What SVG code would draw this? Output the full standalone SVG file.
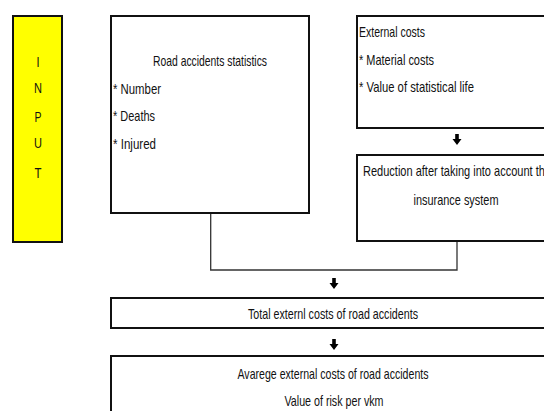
<svg xmlns="http://www.w3.org/2000/svg" width="544" height="411" viewBox="0 0 544 411">
  <style>
    .box { fill: #ffffff; stroke: #111111; stroke-width: 2; }
    .input { fill: #ffff00; stroke: #111111; stroke-width: 2; }
    .t { font-family: "Liberation Sans", Arial, sans-serif; font-size: 15px; fill: #111111; }
    .c { text-anchor: middle; }
    .link { fill: none; stroke: #333333; stroke-width: 1.3; }
    .arrow { fill: #000000; }
  </style>
  <defs>
    <path id="down" class="arrow" d="M-1.8,0 H1.8 V5 H4.5 L0,11 L-4.5,5 H-1.8 Z"/>
  </defs>
  <rect width="544" height="411" fill="#ffffff"/>

  <g id="input">
    <rect class="input" x="13" y="16" width="49" height="226"/>
    <text class="t c" x="38" y="67" textLength="3" lengthAdjust="spacingAndGlyphs">I</text>
    <text class="t c" x="38" y="93" textLength="8" lengthAdjust="spacingAndGlyphs">N</text>
    <text class="t c" x="38" y="122" textLength="7" lengthAdjust="spacingAndGlyphs">P</text>
    <text class="t c" x="38" y="148" textLength="8" lengthAdjust="spacingAndGlyphs">U</text>
    <text class="t c" x="38" y="178" textLength="7" lengthAdjust="spacingAndGlyphs">T</text>
  </g>

  <g id="connectors">
    <polyline class="link" points="210.7,213 210.7,270 457,270 457,241"/>
    <use href="#down" x="457" y="134"/>
    <use href="#down" x="334" y="278"/>
    <use href="#down" x="334" y="339"/>
  </g>

  <g id="statistics">
    <rect class="box" x="111" y="16" width="198" height="197"/>
    <text class="t" x="153" y="66" textLength="114" lengthAdjust="spacingAndGlyphs">Road accidents statistics</text>
    <text class="t" x="113" y="94" textLength="48" lengthAdjust="spacingAndGlyphs">* Number</text>
    <text class="t" x="113" y="121" textLength="42" lengthAdjust="spacingAndGlyphs">* Deaths</text>
    <text class="t" x="113" y="149" textLength="43" lengthAdjust="spacingAndGlyphs">* Injured</text>
  </g>

  <g id="external-costs">
    <rect class="box" x="357" y="16" width="200" height="112"/>
    <text class="t" x="359" y="37" textLength="66" lengthAdjust="spacingAndGlyphs">External costs</text>
    <text class="t" x="359" y="65" textLength="75" lengthAdjust="spacingAndGlyphs">* Material costs</text>
    <text class="t" x="359" y="92" textLength="115" lengthAdjust="spacingAndGlyphs">* Value of statistical life</text>
  </g>

  <g id="reduction">
    <rect class="box" x="357" y="155" width="200" height="86"/>
    <text class="t" x="363" y="176" textLength="188" lengthAdjust="spacingAndGlyphs">Reduction after taking into account the</text>
    <text class="t c" x="456" y="205" textLength="85" lengthAdjust="spacingAndGlyphs">insurance system</text>
  </g>

  <g id="total">
    <rect class="box" x="111" y="298" width="446" height="30"/>
    <text class="t c" x="333" y="319" textLength="170" lengthAdjust="spacingAndGlyphs">Total externl costs of road accidents</text>
  </g>

  <g id="average">
    <rect class="box" x="111" y="356" width="446" height="70"/>
    <text class="t c" x="333" y="379" textLength="191" lengthAdjust="spacingAndGlyphs">Avarege external costs of road accidents</text>
    <text class="t c" x="334" y="406" textLength="99" lengthAdjust="spacingAndGlyphs">Value of risk per vkm</text>
  </g>
</svg>
